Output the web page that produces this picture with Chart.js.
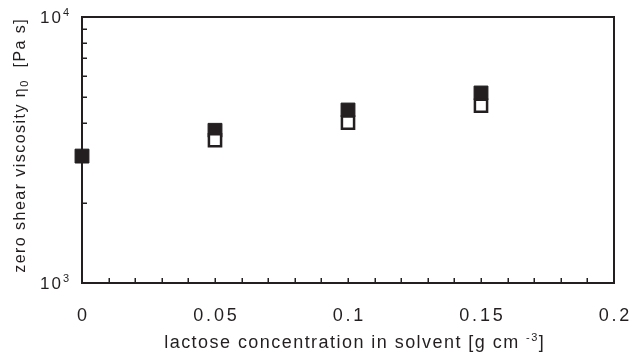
<!DOCTYPE html>
<html><head><meta charset="utf-8">
<script src="https://cdn.jsdelivr.net/npm/chart.js@4/dist/chart.umd.min.js"></script>
<style>html,body{margin:0;padding:0;background:#fff;}#wrap{width:638px;height:354px;}</style>
</head><body><div id="wrap"><canvas id="c" width="638" height="354"></canvas></div>
<script>
// ---- data ----
const filledConcentrations = [0, 0.05, 0.1, 0.15];
const filledViscosity = [3000, 3750, 4470, 5180];
const openConcentrations = [0.05, 0.1, 0.15];
const openViscosity = [3440, 4010, 4640];
const xTickValues = [0, 0.05, 0.1, 0.15, 0.2];
const xTickLabels = ['0', '0.05', '0.1', '0.15', '0.2'];
const xMinorValues = [0.01,0.02,0.03,0.04,0.05,0.06,0.07,0.08,0.09,0.1,0.11,0.12,0.13,0.14,0.15,0.16,0.17,0.18,0.19];
const yTickValues = [1000, 10000];
const yTickExponents = ['3', '4'];
const yMinorValues = [2000,3000,4000,5000,6000,7000,8000,9000];
const xTitleText = 'lactose concentration in solvent [g cm';
const xTitleSup = '-3';
const xTitleEnd = ']';
const yTitleText = 'zero shear viscosity η';
const yTitleSub = '0';
const yTitleEnd = '  [Pa s]';

const INK = '#231f20';
const FONT = '"Liberation Sans", Arial, sans-serif';

function drawRuns(ctx, runs, cx, cy, spacing, targetWidth) {
  if (targetWidth) {
    ctx.letterSpacing = '0px';
    let nat = 0, n = 0;
    runs.forEach(r => { ctx.font = r.size + 'px ' + FONT; nat += ctx.measureText(r.t).width; n += r.t.length; });
    spacing = Math.max(0, (targetWidth - nat) / n);
  }
  ctx.letterSpacing = spacing + 'px';
  let total = 0;
  const widths = runs.map(r => { ctx.font = r.size + 'px ' + FONT; const w = ctx.measureText(r.t).width; total += w; return w; });
  total -= spacing;
  let x = cx - total / 2;
  ctx.textAlign = 'left';
  ctx.textBaseline = 'middle';
  runs.forEach((r, i) => { ctx.font = r.size + 'px ' + FONT; ctx.fillText(r.t, x, cy + (r.dy || 0)); x += widths[i]; });
}

const framePlugin = {
  id: 'frame',
  beforeDatasetsDraw(chart) {
    const ctx = chart.ctx, a = chart.chartArea, xs = chart.scales.x, ys = chart.scales.y;
    ctx.save();
    ctx.strokeStyle = INK;
    ctx.lineWidth = 2;
    ctx.strokeRect(a.left, a.top, a.right - a.left, a.bottom - a.top);
    ctx.lineWidth = 1.5;
    ctx.beginPath();
    xMinorValues.forEach(v => { const px = Math.round(xs.getPixelForValue(v)) + 0.25; ctx.moveTo(px, a.bottom); ctx.lineTo(px, a.bottom - 5); });
    yMinorValues.forEach(v => { const py = Math.round(ys.getPixelForValue(v)) + 0.25; ctx.moveTo(a.left, py); ctx.lineTo(a.left + 5, py); });
    ctx.stroke();
    ctx.restore();
  },
  afterDraw(chart) {
    const ctx = chart.ctx, a = chart.chartArea, xs = chart.scales.x, ys = chart.scales.y;
    ctx.save();
    ctx.fillStyle = INK;
    // x tick labels
    xTickValues.forEach((v, i) => {
      drawRuns(ctx, [{t: xTickLabels[i], size: 18}], xs.getPixelForValue(v), 316, 2.8);
    });
    // y tick labels
    yTickValues.forEach((v, i) => {
      const py = ys.getPixelForValue(v);
      ctx.letterSpacing = '2px';
      ctx.font = '17px ' + FONT;
      ctx.textAlign = 'right'; ctx.textBaseline = 'middle';
      ctx.fillText('10', 63, py + 1);
      ctx.letterSpacing = '0px';
      ctx.font = '11px ' + FONT;
      ctx.textAlign = 'left';
      ctx.fillText(yTickExponents[i], 63, py - 4);
    });
    // x title
    drawRuns(ctx, [{t: xTitleText, size: 18}, {t: ' ', size: 18}, {t: xTitleSup, size: 11, dy: -5}, {t: xTitleEnd, size: 18}], 354, 343, 0, 381);
    // y title
    ctx.translate(21, 146);
    ctx.rotate(-Math.PI / 2);
    drawRuns(ctx, [{t: yTitleText, size: 16}, {t: yTitleSub, size: 11, dy: 4}, {t: yTitleEnd, size: 16}], 0, 0, 0, 255);
    ctx.restore();
  }
};

new Chart(document.getElementById('c'), {
  type: 'scatter',
  data: {
    datasets: [
      {
        label: 'open',
        data: openConcentrations.map((x, i) => ({x, y: openViscosity[i]})),
        pointStyle: 'rect', pointRadius: 8.6, pointHoverRadius: 8.6,
        backgroundColor: '#ffffff', borderColor: INK, borderWidth: 2.5,
        clip: false, order: 0
      },
      {
        label: 'filled',
        data: filledConcentrations.map((x, i) => ({x, y: filledViscosity[i]})),
        pointStyle: 'rect', pointRadius: 9.8, pointHoverRadius: 9.8,
        backgroundColor: INK, borderColor: INK, borderWidth: 1,
        clip: false, order: 1
      }
    ]
  },
  options: {
    responsive: false,
    devicePixelRatio: 1,
    animation: false,
    layout: { padding: { left: 82, right: 24, top: 17, bottom: 71 } },
    plugins: { legend: { display: false }, tooltip: { enabled: false } },
    events: [],
    scales: {
      x: { type: 'linear', min: 0, max: 0.2, display: false },
      y: { type: 'logarithmic', min: 1000, max: 10000, display: false }
    }
  },
  plugins: [framePlugin]
});
</script></body></html>
